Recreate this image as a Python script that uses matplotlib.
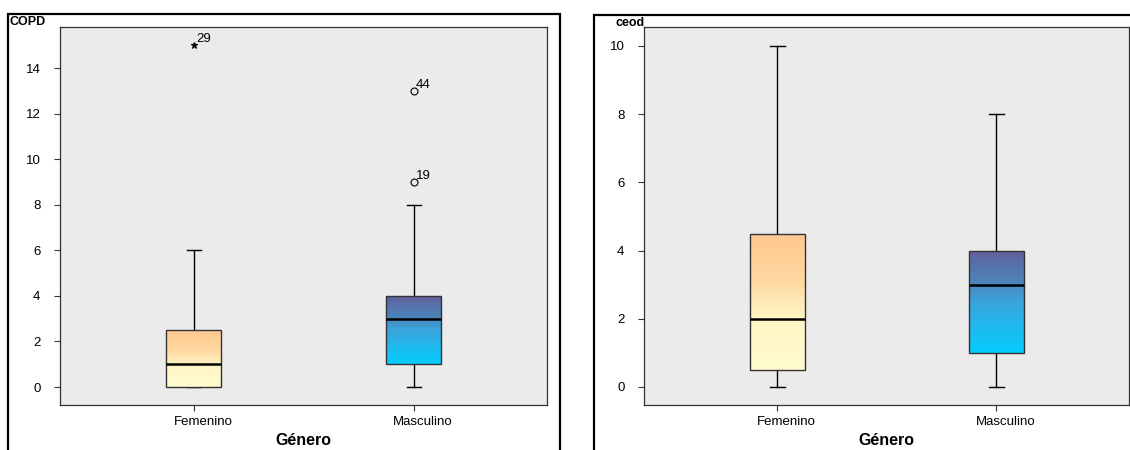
import numpy as np
import matplotlib
matplotlib.use('Agg')
import matplotlib.pyplot as plt
from matplotlib.colors import LinearSegmentedColormap
from matplotlib.patches import Rectangle

plt.rcParams['font.family'] = ['Liberation Sans', 'DejaVu Sans']

groups = ['Femenino', 'Masculino']

# COPD: whisker low, Q1, median, Q3, whisker high
copd_stats = [(0, 0, 1, 2.5, 6), (0, 1, 3, 4, 8)]
copd_outliers = [[(15, '29', '*')], [(9, '19', 'o'), (13, '44', 'o')]]

# ceod
ceod_stats = [(0, 0.5, 2, 4.5, 10), (0, 1, 3, 4, 8)]
ceod_outliers = [[], []]

fem_cmap = LinearSegmentedColormap.from_list(
    'fem', [(0, '#fffbd0'), (0.4, '#fff4c4'), (0.65, '#ffd8a0'), (1, '#ffc890')])
mas_cmap = LinearSegmentedColormap.from_list(
    'mas', [(0, '#05ceff'), (0.5, '#3aa4dc'), (0.67, '#4a86bc'), (1, '#63609a')])
cmaps = [fem_cmap, mas_cmap]

fig = plt.figure(figsize=(11.3, 4.5), dpi=100)
W, H = 1130.0, 450.0

# outer panel frames
fig.add_artist(Rectangle((8 / W, -0.1), 552 / W, 1.1 - 14 / H, transform=fig.transFigure,
                         fill=False, lw=1.6, ec='black'))
fig.add_artist(Rectangle((594 / W, -0.1), 600 / W, 1.1 - 15 / H, transform=fig.transFigure,
                         fill=False, lw=1.6, ec='black'))


def draw_panel(rect, stats, outliers, ylim, yticks, title, title_pos, title_ha):
    ax = fig.add_axes(rect)
    ax.set_facecolor('#ebebeb')
    bstats = []
    for g, (lo, q1, med, q3, hi) in zip(groups, stats):
        bstats.append(dict(label=g, whislo=lo, q1=q1, med=med, q3=q3, whishi=hi, fliers=[]))
    res = ax.bxp(bstats, positions=[1, 2], widths=0.25, patch_artist=True,
                 showfliers=False, capwidths=0.065,
                 boxprops=dict(facecolor='none', edgecolor='#333333', lw=1, zorder=3),
                 medianprops=dict(color='black', lw=1.8, zorder=4),
                 whiskerprops=dict(color='black', lw=1),
                 capprops=dict(color='black', lw=1))
    grad = np.linspace(0, 1, 256).reshape(-1, 1)
    for i, box in enumerate(res['boxes']):
        lo, q1, med, q3, hi = stats[i]
        pos = i + 1
        im = ax.imshow(grad, cmap=cmaps[i], origin='lower', aspect='auto',
                       extent=[pos - 0.125, pos + 0.125, q1, q3], zorder=2.5)
        im.set_clip_path(box)
        for val, lab, mk in outliers[i]:
            ax.plot(pos, val, marker=mk, ms=5, mfc='none' if mk == 'o' else 'black',
                    mec='black', mew=0.8, ls='none', zorder=5)
            ax.annotate(lab, (pos, val), xytext=(1.5, 0), textcoords='offset points',
                        fontsize=9.5, va='bottom', ha='left')
        # category label, drawn slightly right of the tick like the original
        ax.annotate(groups[i], (pos, 0), xycoords=('data', 'axes fraction'),
                    xytext=(9, -11), textcoords='offset pixels',
                    ha='center', va='top', fontsize=9.5)
    ax.set_xlim(0.391, 2.605)
    ax.set_ylim(*ylim)
    ax.set_yticks(yticks)
    ax.set_xticks([1, 2])
    ax.set_xticklabels(['', ''])
    ax.tick_params(axis='both', labelsize=9.5, length=4, width=0.8, color='#333333')
    ax.tick_params(axis='y', pad=10)
    for s in ax.spines.values():
        s.set_color('#333333')
        s.set_linewidth(0.9)
    ax.set_xlabel('Género', fontsize=11.5, fontweight='bold', labelpad=13)
    fig.text(title_pos[0] / W, 1 - title_pos[1] / H, title, fontsize=9, fontweight='bold',
             ha=title_ha, va='center')
    return ax


draw_panel([60 / W, 1 - 405 / H, 487 / W, 378 / H], copd_stats, copd_outliers,
           (-0.79, 15.8), [0, 2, 4, 6, 8, 10, 12, 14], 'COPD', (10, 22), 'left')
draw_panel([644 / W, 1 - 405 / H, 485 / W, 378 / H], ceod_stats, ceod_outliers,
           (-0.528, 10.557), [0, 2, 4, 6, 8, 10], 'ceod', (645, 23), 'right')

plt.savefig('out.png', dpi=100)
